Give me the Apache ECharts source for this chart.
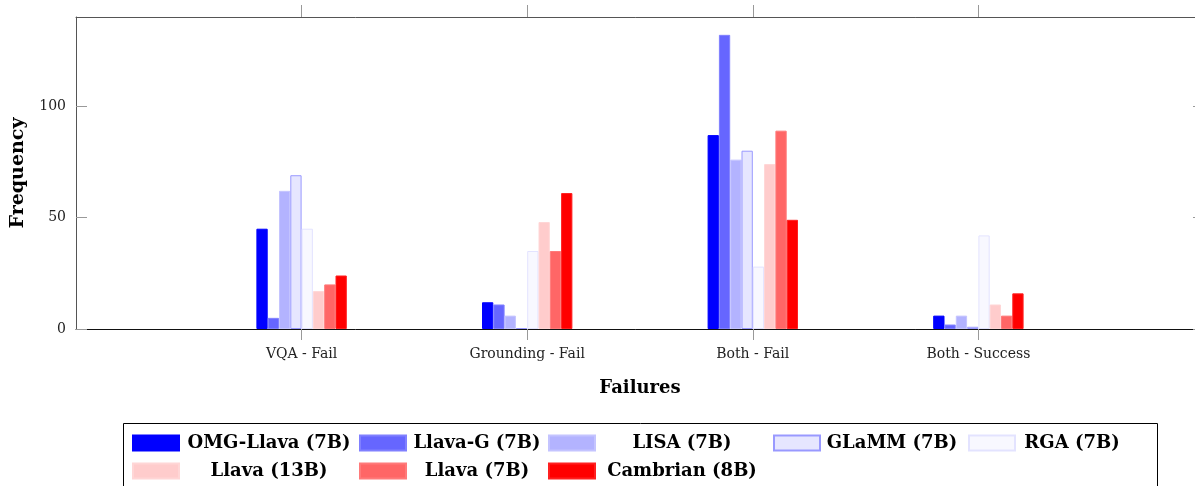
<!DOCTYPE html>
<html>
<head>
<meta charset="utf-8">
<script src="https://cdn.jsdelivr.net/npm/echarts@6/dist/echarts.min.js"></script>
<style>
  html, body { margin: 0; padding: 0; background: #fff; }
  #chart { width: 1195px; height: 486px; }
</style>
</head>
<body>
<div id="chart"></div>
<script>
// categories (empty ones pad the axis ends)
const categories = ['', 'VQA - Fail', 'Grounding - Fail', 'Both - Fail', 'Both - Success', '']
const yTicks = [0, 50, 100]

const omgLlava = [null, 45, 12, 87, 6, null]
const llavaG = [null, 5, 11, 132, 2, null]
const lisa = [null, 62, 6, 76, 6, null]
const glamm = [null, 69, 0, 80, 1, null]
const rga = [null, 45, 35, 28, 42, null]
const llava13 = [null, 17, 48, 74, 11, null]
const llava7 = [null, 20, 35, 89, 6, null]
const cambrian = [null, 24, 61, 49, 16, null]

const serif = 'DejaVu Serif'

function bar (name, data, fill, stroke, extra) {
  return Object.assign({
    name: name,
    type: 'bar',
    data: data,
    barWidth: 11.3,
    barGap: '0%',
    xAxisIndex: 0,
    yAxisIndex: 0,
    itemStyle: { color: fill, borderColor: stroke, borderWidth: 1 }
  }, extra || {})
}

// one legend per item so the columns line up like the original table
function legendItem (name, left, top, w) {
  return {
    data: [name],
    left: left,
    top: top,
    padding: 0,
    icon: 'rect',
    itemWidth: 46,
    itemHeight: 15,
    itemGap: 0,
    selectedMode: false,
    formatter: function (n) { return '{c|' + n + '}' },
    textStyle: {
      rich: {
        c: { width: w, align: 'center', fontFamily: serif, fontWeight: 'bold', fontSize: 18, color: '#000', lineHeight: 18 }
      }
    }
  }
}

const tickShow = function (i, v) { return v !== '' }

const chart = echarts.init(document.getElementById('chart'))
chart.setOption({
  animation: false,
  backgroundColor: '#fff',
  grid: { left: 76, top: 17, right: -9, bottom: 157, outerBoundsMode: 'none', containLabel: false },
  xAxis: [{
    type: 'category',
    data: categories,
    boundaryGap: false,
    position: 'bottom',
    name: 'Failures',
    nameLocation: 'middle',
    nameGap: 50,
    nameTextStyle: { fontFamily: serif, fontWeight: 'bold', fontSize: 18, color: '#000' },
    axisLine: { onZero: false, lineStyle: { color: '#111', width: 1 } },
    axisTick: { show: true, inside: false, length: 11, lineStyle: { color: '#999' }, interval: tickShow },
    axisLabel: { margin: 18, fontFamily: serif, fontSize: 14, color: '#222', interval: 0 },
    splitLine: { show: false }
  }, {
    type: 'category',
    data: categories,
    boundaryGap: false,
    position: 'top',
    axisLine: { onZero: false, lineStyle: { color: '#555', width: 1 } },
    axisTick: { show: true, inside: false, length: 12, lineStyle: { color: '#999' }, interval: tickShow },
    axisLabel: { show: false },
    splitLine: { show: false }
  }],
  yAxis: [{
    type: 'value',
    min: 0,
    max: 140,
    position: 'left',
    name: 'Frequency',
    nameLocation: 'middle',
    nameGap: 48,
    nameTextStyle: { fontFamily: serif, fontWeight: 'bold', fontSize: 19, color: '#000' },
    axisLine: { show: true, onZero: false, lineStyle: { color: '#555', width: 1 } },
    axisTick: { show: true, inside: true, length: 11, lineStyle: { color: '#999' }, customValues: yTicks },
    axisLabel: { margin: 10, fontFamily: serif, fontSize: 14, color: '#222', customValues: yTicks },
    splitLine: { show: false }
  }, {
    type: 'value',
    min: 0,
    max: 140,
    position: 'right',
    axisLine: { show: true, onZero: false, lineStyle: { color: '#555', width: 1 } },
    axisTick: { show: true, inside: true, length: 11, lineStyle: { color: '#999' }, customValues: yTicks },
    axisLabel: { show: false },
    splitLine: { show: false }
  }],
  legend: [
    legendItem('OMG-Llava (7B)', 132, 434, 170),
    legendItem('Llava-G (7B)', 359, 434, 132),
    legendItem('LISA (7B)', 548, 434, 164),
    legendItem('GLaMM (7B)', 773, 434, 134),
    legendItem('RGA (7B)', 968, 434, 104),
    legendItem('Llava (13B)', 132, 462, 170),
    legendItem('Llava (7B)', 359, 462, 132),
    legendItem('Cambrian (8B)', 548, 462, 164)
  ],
  graphic: [{
    type: 'rect',
    shape: { x: 123.5, y: 423.5, width: 1034, height: 80 },
    style: { fill: 'none', stroke: '#000', lineWidth: 1 },
    silent: true
  }],
  series: [
    bar('OMG-Llava (7B)', omgLlava, '#0000ff', '#0000ff'),
    bar('Llava-G (7B)', llavaG, '#6666ff', '#8080ff'),
    bar('LISA (7B)', lisa, '#b3b3ff', '#c4c4ff'),
    bar('GLaMM (7B)', glamm, '#e6e6ff', '#9999ff', { barMinHeight: 1 }),
    bar('RGA (7B)', rga, '#f8f8ff', '#e3e3ff'),
    bar('Llava (13B)', llava13, '#ffcccc', '#ffd6d6'),
    bar('Llava (7B)', llava7, '#ff6666', '#ff7a7a'),
    bar('Cambrian (8B)', cambrian, '#ff0000', '#ff2020')
  ]
})
</script>
</body>
</html>
